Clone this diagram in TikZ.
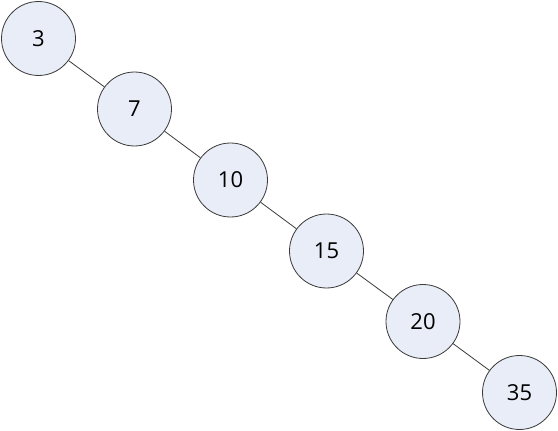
\documentclass[tikz,border=0pt]{standalone}
\usepackage{fontspec}
\setmainfont{Open Sans}
\definecolor{nodefill}{HTML}{E8EDF7}
\definecolor{nodeline}{HTML}{3A3A3A}
\begin{document}
\begin{tikzpicture}[x=1pt,y=-1pt,
  bnode/.style={circle,draw=nodeline,fill=nodefill,line width=0.8pt,minimum size=74pt,inner sep=0pt,font=\fontsize{22}{26}\selectfont},
  edge/.style={draw=nodeline,line width=0.8pt}]
\useasboundingbox (0,0) rectangle (558,431);
\node[bnode] (n3) at (38.5,38.5) {3};
\node[bnode] (n7) at (134.5,109) {7};
\node[bnode] (n10) at (230.5,180) {10};
\node[bnode] (n15) at (326.5,251) {15};
\node[bnode] (n20) at (423,321.5) {20};
\node[bnode] (n35) at (519.5,392.5) {35};
\draw[edge] (n3) -- (n7);
\draw[edge] (n7) -- (n10);
\draw[edge] (n10) -- (n15);
\draw[edge] (n15) -- (n20);
\draw[edge] (n20) -- (n35);
\end{tikzpicture}
\end{document}
